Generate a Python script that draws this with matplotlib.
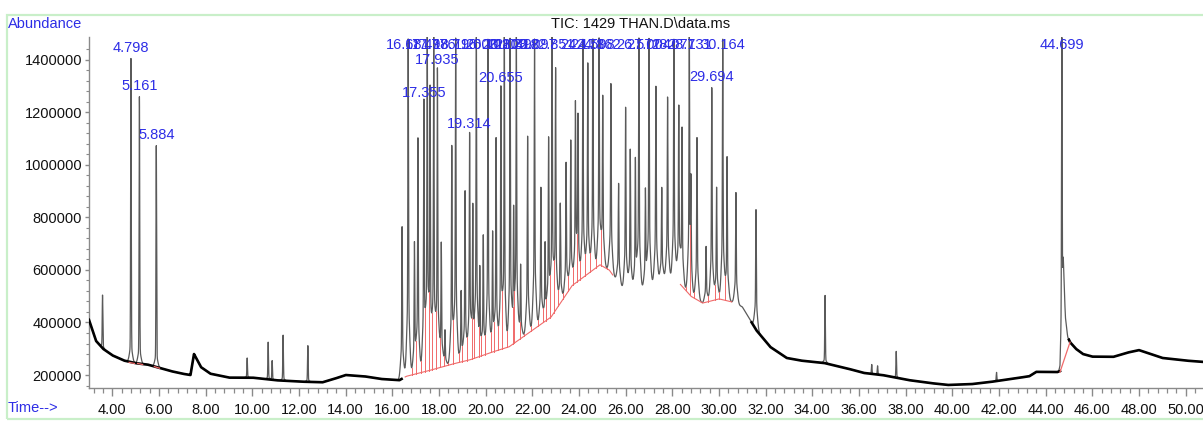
import numpy as np
import matplotlib
matplotlib.use("Agg")
import matplotlib.pyplot as plt
from matplotlib.patches import Rectangle

plt.rcParams["font.family"] = ["Liberation Sans", "DejaVu Sans"]

# ---- chromatogram data -------------------------------------------------
# baseline (time in min, abundance)
base_t = [3.0, 3.3, 3.6, 4.0, 4.5, 5.0, 5.5, 6.0, 6.5, 7.0, 7.35, 7.5, 7.8, 8.2,
          9.0, 10.0, 11.0, 12.0, 13.0, 13.5, 14.0, 14.8, 15.5, 16.3, 16.6, 17.5,
          18.5, 19.3, 20.2, 21.0, 22.2, 22.8, 23.7, 24.9, 25.3, 25.9, 26.6, 27.5,
          28.2, 28.8, 29.3, 30.0, 30.5, 31.0, 31.6, 32.2, 32.9, 33.5, 34.5, 35.5,
          36.2, 37.0, 38.1, 39.0, 39.8, 40.8, 41.6, 42.5, 43.3, 43.6, 44.5, 44.62,
          44.76, 44.85, 44.95, 45.05, 45.3, 45.6, 46.0, 46.9, 47.5, 48.0, 48.5,
          49.0, 50.0, 50.75]
base_v = [410000, 330000, 300000, 275000, 255000, 245000, 240000, 228000, 215000,
          205000, 200000, 280000, 230000, 205000, 190000, 190000, 180000, 175000,
          172000, 185000, 200000, 195000, 185000, 180000, 195000, 215000, 240000,
          257000, 285000, 307000, 383000, 420000, 540000, 620000, 600000, 524000,
          520000, 562000, 560000, 500000, 474000, 490000, 480000, 460000, 371000,
          307000, 265000, 255000, 246000, 225000, 208000, 200000, 181000, 170000,
          162000, 165000, 173000, 185000, 195000, 212000, 211000, 215000, 620000,
          420000, 345000, 325000, 300000, 280000, 270000, 269000, 285000, 295000,
          280000, 265000, 255000, 250000]

# peak retention times and apex abundances
peak_t = [3.58, 4.798, 5.161, 5.884, 9.78, 10.68, 10.85, 11.32, 12.38,
          16.42, 16.681, 16.95, 17.10, 17.355, 17.498, 17.62, 17.776, 17.935,
          18.10, 18.26, 18.55, 18.716, 18.95, 19.12, 19.314, 19.45, 19.603,
          19.75, 19.90, 20.102, 20.30, 20.45, 20.655, 20.803, 21.049, 21.20,
          21.318, 21.50, 21.80, 22.097, 22.37, 22.55, 22.70, 22.851, 23.00,
          23.20, 23.45, 23.65, 23.85, 23.96, 24.171, 24.38, 24.598, 24.862,
          25.02, 25.37, 25.70, 26.00, 26.20, 26.42, 26.571, 26.85, 27.004,
          27.30, 27.55, 27.80, 28.071, 28.28, 28.42, 28.731, 28.80, 29.06,
          29.45, 29.694, 29.90, 30.164, 30.35, 30.73, 31.59,
          34.55, 36.55, 36.80, 37.60, 41.90, 44.699]
peak_h = [505000, 1407000, 1260000, 1076000, 265000, 325000, 255000, 352000, 312000,
          765000, 1480000, 700000, 1100000, 1235000, 1480000, 1260000, 1480000, 1360000,
          700000, 370000, 1070000, 1480000, 520000, 900000, 1115000, 830000, 1480000,
          600000, 730000, 1480000, 740000, 1100000, 1290000, 1480000, 1480000, 800000,
          1480000, 620000, 1110000, 1480000, 915000, 700000, 1095000, 1480000, 1360000,
          855000, 1010000, 1095000, 1220000, 1170000, 1480000, 1390000, 1480000, 1480000,
          1260000, 1310000, 930000, 1220000, 1060000, 1020000, 1480000, 905000, 1480000,
          1300000, 915000, 1260000, 1480000, 1220000, 1135000, 1480000, 855000, 1105000,
          690000, 1295000, 915000, 1480000, 1030000, 895000, 830000,
          503000, 240000, 235000, 290000, 210000, 1485000]

# retention times printed above their peaks
labeled_t = [4.798, 5.161, 5.884, 16.681, 17.355, 17.498, 17.776, 17.935, 18.716,
             19.314, 19.603, 20.102, 20.655, 20.803, 21.049, 21.318, 22.097,
             22.851, 24.171, 24.598, 24.862, 26.571, 27.004, 28.071, 28.731,
             29.694, 30.164, 44.699]

# integration baseline pieces (drawn in red)
red_seg_t = [(4.72, 4.95), (5.08, 5.30), (5.80, 6.02), (44.62, 45.05)]
red_seg_v = [(248000, 244000), (244000, 240000), (232000, 226000), (211000, 325000)]
red_zones = [(16.55, 25.45), (28.35, 30.55)]

x_ticks = np.arange(4, 51, 2)
y_ticks = [200000, 400000, 600000, 800000, 1000000, 1200000, 1400000]

# ---- build the trace ---------------------------------------------------
t = np.linspace(3.0, 50.75, 24000)
base = np.interp(t, base_t, base_v)
signal = np.zeros_like(t)
for tp, hp in zip(peak_t, peak_h):
    amp = hp - np.interp(tp, base_t, base_v)
    skirt = 0.22 if 16.3 < tp < 32.0 else 0.05
    signal += amp * ((1 - skirt) * np.exp(-0.5 * ((t - tp) / 0.013) ** 2)
                     + skirt * np.exp(-0.5 * ((t - tp) / 0.06) ** 2))
trace = base + signal

# ---- figure --------------------------------------------------------------
W, H = 1203, 421
fig = plt.figure(figsize=(W / 100, H / 100), dpi=100)
fig.patch.set_facecolor("white")
fig.add_artist(Rectangle((7 / W, 1 - 419 / H), 1.2, (419 - 15) / H,
                         transform=fig.transFigure, fill=False,
                         ec="#c9efc9", lw=1.6, clip_on=False))

ax = fig.add_axes([89 / W, 1 - 388 / H, 1 - 89 / W, (388 - 37) / H])
ax.set_xlim(3.0, 50.75)
ax.set_ylim(150500, 1487500)

ax.plot(t, trace, color="#5a5a5a", lw=0.9, zorder=2)

# noisy-looking baseline outside the dense region
outer = np.where((t < 16.4) | (t > 31.4), base, np.nan)
outer = np.where((t > 44.62) & (t < 45.0), np.nan, outer)
ax.plot(t, outer, color="black", lw=1.9, zorder=3)

# integration marks
red = "#f06a6a"
for (t0, t1), (v0, v1) in zip(red_seg_t, red_seg_v):
    ax.plot([t0, t1], [v0, v1], color=red, lw=0.9, zorder=4)
for z0, z1 in red_zones:
    zone = [(tp, hp) for tp, hp in zip(peak_t, peak_h) if z0 <= tp <= z1]
    m = (t >= z0) & (t <= z1)
    ax.plot(t[m], base[m], color=red, lw=0.8, zorder=4)
    for (ta, _), (tb, _) in zip(zone[:-1], zone[1:]):
        seg = (t > ta) & (t < tb)
        i = np.argmin(trace[seg])
        tv = t[seg][i]
        ax.plot([tv, tv], [np.interp(tv, base_t, base_v), trace[seg][i]],
                color=red, lw=0.7, zorder=4)

# retention time labels
blue = "#2d2de6"
for tl in labeled_t:
    h = peak_h[peak_t.index(tl)]
    ax.text(tl, min(h + 40000, 1457000), f"{tl:.3f}", color=blue,
            fontsize=10.5, ha="center", va="center", zorder=6)

# axes styling
for s in ["top", "right"]:
    ax.spines[s].set_visible(False)
for s in ["left", "bottom"]:
    ax.spines[s].set_color("#8a8a8a")
    ax.spines[s].set_linewidth(1.0)

ax.set_xticks(x_ticks)
ax.set_xticklabels([f"{v:.2f}" for v in x_ticks])
ax.set_xticks(np.arange(3.2, 50.75, 0.4), minor=True)
ax.set_yticks(y_ticks)
ax.set_yticklabels([str(v) for v in y_ticks])
ax.set_yticks(np.arange(160000, 1480000, 40000), minor=True)
ax.tick_params(axis="x", which="major", length=6, width=1, color="#8a8a8a",
               labelsize=10.5, pad=5, labelcolor="#111111")
ax.tick_params(axis="x", which="minor", length=3.5, width=0.9, color="#8a8a8a")
ax.tick_params(axis="y", which="major", length=3, width=1, color="#8a8a8a",
               labelsize=10.5, pad=2, labelcolor="#111111")
ax.tick_params(axis="y", which="minor", length=2, width=0.8, color="#8a8a8a")

fig.text(8 / W, 1 - 24 / H, "Abundance", color=blue, fontsize=10.5,
         ha="left", va="center")
fig.text(8 / W, 1 - 408 / H, "Time-->", color=blue, fontsize=10.5,
         ha="left", va="center")
fig.text(641 / W, 1 - 24 / H, "TIC: 1429 THAN.D\\data.ms", color="#111111",
         fontsize=10.5, ha="center", va="center")

fig.savefig("out.png", dpi=100)
